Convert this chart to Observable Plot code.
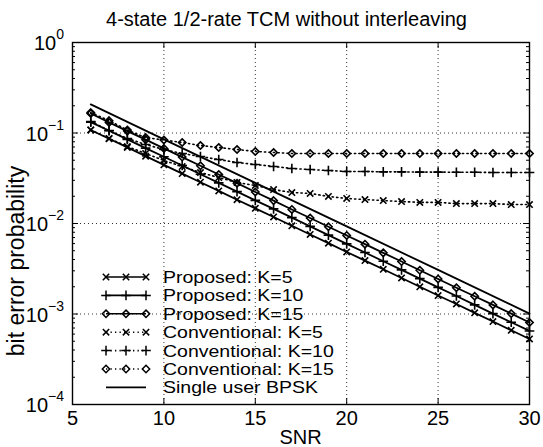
<!DOCTYPE html>
<html><head><meta charset="utf-8">
<script src="https://cdn.jsdelivr.net/npm/d3@7"></script>
<script src="https://cdn.jsdelivr.net/npm/@observablehq/plot@0.6"></script>
<style>body{margin:0;background:#fff} svg{display:block}</style>
</head><body><div id="chart"></div>
<script>
// ---- data ----
const snr = [6,7,8,9,10,11,12,13,14,15,16,17,18,19,20,21,22,23,24,25,26,27,28,29,30];
const proposedK5  = [0.108,0.0865,0.0693,0.0555,0.0445,0.0356,0.0286,0.0229,0.0183,0.0147,0.0118,0.00944,0.00757,0.00606,0.00485,0.00389,0.00312,0.00250,0.00200,0.00160,0.00129,0.00103,0.000826,0.000661,0.000530];
const proposedK10 = [0.132,0.106,0.0850,0.0681,0.0546,0.0437,0.0350,0.0281,0.0225,0.0180,0.0145,0.0116,0.00929,0.00744,0.00596,0.00478,0.00383,0.00307,0.00246,0.00197,0.00158,0.00126,0.00101,0.000811,0.000650];
const proposedK15 = [0.164,0.131,0.105,0.0844,0.0676,0.0542,0.0434,0.0348,0.0279,0.0223,0.0179,0.0143,0.0115,0.00921,0.00738,0.00591,0.00474,0.00380,0.00304,0.00244,0.00195,0.00157,0.00126,0.00101,0.000806];
const conventionalK5  = [0.108,0.0870,0.0709,0.0594,0.0497,0.0426,0.0366,0.0322,0.0284,0.0263,0.0237,0.0220,0.0215,0.0199,0.0189,0.0184,0.0179,0.0175,0.0171,0.0171,0.0166,0.0166,0.0166,0.0162,0.0162];
const conventionalK10 = [0.134,0.1066,0.0869,0.0746,0.0657,0.0594,0.0550,0.0509,0.0472,0.0449,0.0427,0.0405,0.0395,0.0385,0.0376,0.0376,0.0372,0.0372,0.0370,0.0370,0.0368,0.0368,0.0366,0.0366,0.0366];
const conventionalK15 = [0.168,0.137,0.108,0.089,0.0837,0.0785,0.0728,0.0691,0.0657,0.0625,0.0609,0.0594,0.0594,0.0594,0.0594,0.0594,0.0594,0.0594,0.0594,0.0594,0.0594,0.0594,0.0594,0.0594,0.0594];
const bpskSnr = [6,10,15,20,25,30];
const bpsk    = [0.207,0.0851,0.0281,0.00929,0.00307,0.00101];

const seriesLabels = ["Proposed: K=5","Proposed: K=10","Proposed: K=15","Conventional: K=5","Conventional: K=10","Conventional: K=15","Single user BPSK"];
const xTicks = [5,10,15,20,25,30];
const xGrid  = [10,15,20,25];
const yTicks = [1e-4,1e-3,1e-2,1e-1,1];
const yGrid  = [1e-3,1e-2,1e-1];
const yExponents = ["−4","−3","−2","−1","0"];
const titleText = "4-state 1/2-rate TCM without interleaving";
const xLabel = "SNR";
const yLabel = "bit error probability";

// ---- layout ----
const W=543, H=447, mL=72, mR=14, mT=42, mB=43;
const innerW = W-mL-mR, innerH = H-mT-mB;
const font = "'Liberation Sans', Arial, Helvetica, sans-serif";
const fs = 20;
const dotted = "1.3,3.2";

const rows = vals => snr.map((x,i)=>({x, p: vals[i]}));
const series = [
  {vals: proposedK5,  sym: "times",    dash: null},
  {vals: proposedK10, sym: "plus",     dash: null},
  {vals: proposedK15, sym: "diamond2", dash: null},
  {vals: conventionalK5,  sym: "times",    dash: dotted},
  {vals: conventionalK10, sym: "plus",     dash: dotted},
  {vals: conventionalK15, sym: "diamond2", dash: dotted}
];
const symR = {times: 3.0, plus: 3.2, diamond2: 3.3};

const minor = d3.scaleLog().domain([1e-4,1]).ticks().filter(v => !yTicks.some(t => Math.abs(Math.log10(v)-Math.log10(t))<1e-9));

const marks = [
  Plot.ruleX(xGrid, {stroke:"#333", strokeWidth:1, strokeDasharray:"1,3"}),
  Plot.ruleY(yGrid, {stroke:"#333", strokeWidth:1, strokeDasharray:"1,3"})
];
series.forEach(s => {
  const d = rows(s.vals);
  marks.push(Plot.line(d, {x:"x", y:"p", stroke:"black", strokeWidth: s.dash ? 1.6 : 1.8, strokeDasharray: s.dash || undefined}));
  marks.push(Plot.dot(d, {x:"x", y:"p", symbol: s.sym, r: symR[s.sym], stroke:"black", strokeWidth:1.6, fill:"none"}));
});
marks.push(Plot.line(bpskSnr.map((x,i)=>({x, p: bpsk[i]})), {x:"x", y:"p", stroke:"black", strokeWidth:1.8}));
marks.push(
  Plot.frame({stroke:"black", strokeWidth:1.4}),
  Plot.ruleX(xTicks, {insetTop: innerH-6, stroke:"black"}),
  Plot.ruleX(xTicks, {insetBottom: innerH-6, stroke:"black"}),
  Plot.ruleY(yTicks, {insetRight: innerW-6, stroke:"black"}),
  Plot.ruleY(yTicks, {insetLeft: innerW-6, stroke:"black"}),
  Plot.ruleY(minor, {insetRight: innerW-3, stroke:"black"}),
  Plot.ruleY(minor, {insetLeft: innerW-3, stroke:"black"})
);

const plot = Plot.plot({
  width: W, height: H, marginLeft: mL, marginRight: mR, marginTop: mT, marginBottom: mB,
  style: {fontFamily: font, fontSize: fs + "px", background: "white", color: "black"},
  x: {domain: [5,30], ticks: xTicks, tickSize: 0, tickPadding: 6, label: null},
  y: {type: "log", domain: [1e-4,1], axis: null},
  marks
});
document.getElementById("chart").appendChild(plot);

// ---- text additions (title, labels, y tick labels, legend) ----
const svg = d3.select(plot);
const yS = plot.scale("y");
const addText = (x, y, txt, anchor) => svg.append("text").attr("x", x).attr("y", y)
  .attr("text-anchor", anchor).attr("font-family", font).attr("font-size", fs).attr("fill", "black").text(txt);
addText(mL+innerW/2 - 14, 26, titleText, "middle");
addText(mL+innerW/2, 444, xLabel, "middle");
svg.append("text").attr("transform", `translate(24,${mT+innerH/2+38}) rotate(-90)`).attr("text-anchor","middle")
  .attr("font-family", font).attr("font-size", 23).attr("fill","black").text(yLabel);

yTicks.forEach((v,i) => {
  const t = svg.append("text").attr("x", 64).attr("y", yS.apply(v)+8).attr("text-anchor","end")
    .attr("font-family", font).attr("font-size", fs).attr("fill","black");
  t.append("tspan").text("10");
  t.append("tspan").attr("dy", -11).attr("font-size", 14).text(yExponents[i]);
});

const legSyms = ["times","plus","diamond2","times","plus","diamond2",null];
const legDash = [null,null,null,dotted,dotted,dotted,null];
const d3Sym = {times: d3.symbolTimes, plus: d3.symbolPlus, diamond2: d3.symbolDiamond2};
const lfs = 16.5, lwide = 19.5, lx0 = 106, lx1 = 146, ltx = 163, ly0 = 277, lstep = 18.4;
const leg = svg.append("g");
seriesLabels.forEach((lab,i) => {
  const cy = ly0 + i*lstep;
  leg.append("line").attr("x1", lx0).attr("x2", lx1).attr("y1", cy).attr("y2", cy)
    .attr("stroke","black").attr("stroke-width",1.6).attr("stroke-dasharray", legDash[i]);
  if (legSyms[i]) {
    [lx0, (lx0+lx1)/2, lx1].forEach(mx => {
      leg.append("path").attr("d", d3.symbol(d3Sym[legSyms[i]], Math.PI*symR[legSyms[i]]**2)())
        .attr("transform", `translate(${mx},${cy})`).attr("fill","none").attr("stroke","black").attr("stroke-width",1.5);
    });
  }
  const t = leg.append("text").attr("x", ltx).attr("y", cy+6).attr("text-anchor","start").attr("font-family", font).attr("font-size", lfs)
    .attr("fill","black").text(lab);
  const natural = t.node().getComputedTextLength();
  t.attr("textLength", natural * lwide / lfs).attr("lengthAdjust", "spacingAndGlyphs");
});
</script>
</body></html>
